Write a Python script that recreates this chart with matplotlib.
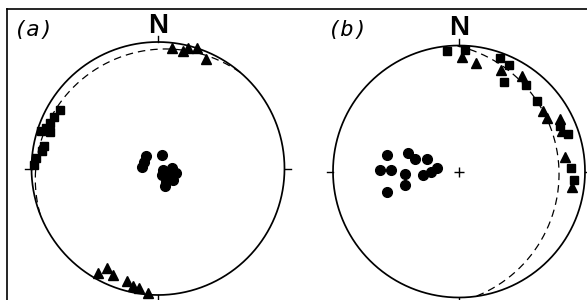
import numpy as np
import matplotlib
matplotlib.use("Agg")
import matplotlib.pyplot as plt
from matplotlib.lines import Line2D

# ---- data: equal-area projected positions (x = East, y = North, unit primitive) ----
a_circ_x = [-0.095, -0.111, -0.126, 0.028, 0.040, 0.107, 0.146, 0.119, 0.067, 0.028, 0.079, 0.055]
a_circ_y = [0.095, 0.055, 0.012, 0.107, -0.012, 0.004, -0.036, -0.091, -0.107, -0.051, -0.059, -0.138]
a_sq_x = [-0.775, -0.822, -0.854, -0.885, -0.925, -0.854, -0.901, -0.917, -0.964, -0.980]
a_sq_y = [0.462, 0.407, 0.360, 0.320, 0.296, 0.289, 0.178, 0.138, 0.083, 0.028]
a_tri_x = [0.108, 0.200, 0.240, 0.311, 0.379, -0.472, -0.406, -0.353, -0.247, -0.195, -0.150, -0.077]
a_tri_y = [0.953, 0.929, 0.949, 0.949, 0.862, -0.828, -0.789, -0.842, -0.893, -0.925, -0.947, -0.982]
a_cone = (0.06, -0.085, 1.03)   # small-circle centre x, y and radius

b_circ_x = [-0.571, -0.627, -0.536, -0.401, -0.349, -0.254, -0.425, -0.425, -0.282, -0.222, -0.171, -0.571]
b_circ_y = [0.131, 0.012, 0.012, 0.147, 0.099, 0.099, -0.020, -0.107, -0.028, 0.000, 0.028, -0.159]
b_sq_x = [-0.095, 0.048, 0.325, 0.393, 0.361, 0.528, 0.619, 0.802, 0.865, 0.885, 0.909]
b_sq_y = [0.956, 0.964, 0.901, 0.849, 0.710, 0.687, 0.556, 0.361, 0.294, 0.028, -0.071]
b_tri_x = [0.024, 0.135, 0.333, 0.500, 0.667, 0.698, 0.802, 0.821, 0.841, 0.893]
b_tri_y = [0.905, 0.865, 0.806, 0.754, 0.484, 0.421, 0.417, 0.321, 0.115, -0.123]
b_cone = (-0.25, -0.02, 1.044)

labels = ["(a)", "(b)"]
north = "N"

W, H = 587, 300
fig = plt.figure(figsize=(W / 100, H / 100), dpi=100)
fig.patch.set_facecolor("white")


def panel(left_px, right_px, cx, cy, r):
    ax = fig.add_axes([left_px / W, 0, (right_px - left_px) / W, 1])
    ax.set_xlim((left_px - cx) / r, (right_px - cx) / r)
    ax.set_ylim((cy - H) / r, cy / r)
    ax.set_aspect("auto")
    ax.axis("off")
    return ax


def draw(ax, cx_, cy_, sqx, sqy, trx, try_, cone, label, plus, lab_xy, n_y):
    t = np.linspace(0, 2 * np.pi, 721)
    ax.plot(np.cos(t), np.sin(t), color="black", lw=1.25, solid_capstyle="butt")
    tl = 0.05
    for dx, dy in [(0, 1), (0, -1), (1, 0), (-1, 0)]:
        ax.plot([dx, dx * (1 + tl)], [dy, dy * (1 + tl)], color="black", lw=1.0)
    # small circle (dashed), only the part inside the primitive
    ccx, ccy, cr = cone
    px = ccx + cr * np.cos(t)
    py = ccy + cr * np.sin(t)
    inside = px ** 2 + py ** 2 <= 1.0
    px = np.where(inside, px, np.nan)
    py = np.where(inside, py, np.nan)
    k = int(np.argmax(~inside)) if (~inside).any() else 0
    px = np.roll(px, -k)
    py = np.roll(py, -k)
    ax.plot(px, py, color="black", lw=0.9, ls=(0, (6, 4)))
    ax.plot(cx_, cy_, ls="none", marker="o", ms=7.0, color="black")
    ax.plot(sqx, sqy, ls="none", marker="s", ms=6.0, color="black")
    ax.plot(trx, try_, ls="none", marker="^", ms=7.4, color="black")
    if plus:
        ax.plot([0], [0], marker="+", ms=7, mew=1.0, color="black")
    ax.text(0, n_y, north, ha="center", va="baseline", fontsize=20,
            fontweight="bold", family="Liberation Sans")
    ax.text(lab_xy[0], lab_xy[1], label, ha="left", va="center", fontsize=16,
            style="italic", family="DejaVu Sans Mono")


axa = panel(0, 293.5, 158, 168.5, 126.5)
draw(axa, a_circ_x, a_circ_y, a_sq_x, a_sq_y, a_tri_x, a_tri_y, a_cone,
     labels[0], False, (-1.135, 1.095), 1.071)

axb = panel(293.5, W, 459, 171.5, 126)
draw(axb, b_circ_x, b_circ_y, b_sq_x, b_sq_y, b_tri_x, b_tri_y, b_cone,
     labels[1], True, (-1.04, 1.123), 1.083)

# outer frame (top and left edges)
fig.add_artist(Line2D([7 / W, 1], [1 - 9 / H, 1 - 9 / H], color="black", lw=1.2,
                      transform=fig.transFigure))
fig.add_artist(Line2D([7 / W, 7 / W], [0, 1 - 9 / H], color="black", lw=1.2,
                      transform=fig.transFigure))

fig.savefig("out.png", dpi=100)
